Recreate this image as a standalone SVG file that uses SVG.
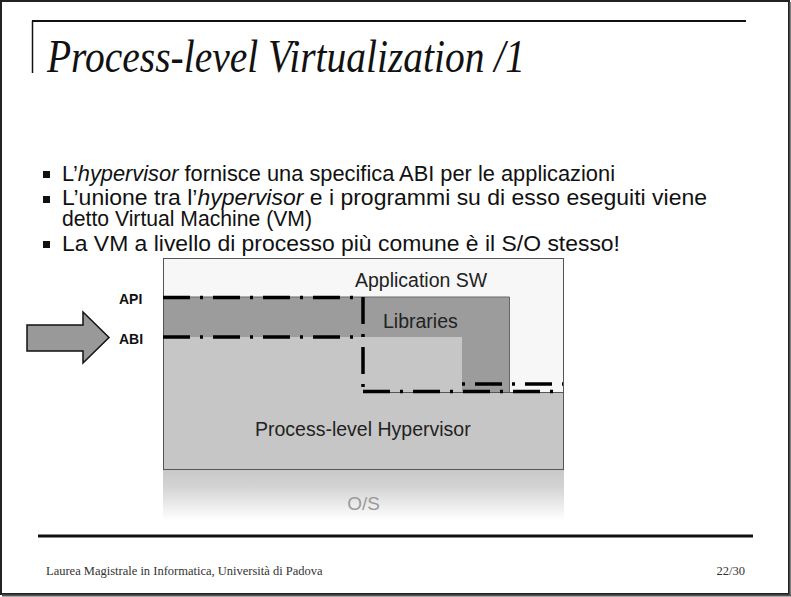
<svg xmlns="http://www.w3.org/2000/svg" width="791" height="597" viewBox="0 0 791 597">
<style>
.sans{font-family:"Liberation Sans",Arial,sans-serif}
.serif{font-family:"Liberation Serif","Times New Roman",serif}
.bul{font-size:21.5px;fill:#111}
.lbl{font-size:19.5px;fill:#222}
.dd{fill:none;stroke:#000;stroke-width:3.5;stroke-dasharray:27 10 3 10}
</style>
<defs>
<linearGradient id="sh" x1="0" y1="0" x2="0" y2="1">
<stop offset="0" stop-color="#c8c8c8"/>
<stop offset="0.35" stop-color="#d4d4d4"/>
<stop offset="1" stop-color="#ffffff"/>
</linearGradient>
</defs>
<rect x="0" y="0" width="791" height="597" fill="#fff"/>
<rect x="1" y="1" width="788" height="593" fill="none" stroke="#222" stroke-width="2"/>
<line x1="790" y1="2" x2="790" y2="596" stroke="#555" stroke-width="1.5"/>
<line x1="2" y1="595.5" x2="791" y2="595.5" stroke="#555" stroke-width="2"/>
<g id="title">
<line x1="32" y1="21" x2="746" y2="21" stroke="#111" stroke-width="2"/>
<line x1="32.5" y1="21" x2="32.5" y2="73" stroke="#111" stroke-width="1.5"/>
<text x="47" y="72" class="serif" font-style="italic" font-size="46" fill="#111" textLength="478" lengthAdjust="spacingAndGlyphs">Process-level Virtualization /1</text>
</g>
<g id="bullets" class="sans bul">
<rect x="43" y="171" width="7" height="7" fill="#111"/>
<text x="62" y="181" textLength="553" lengthAdjust="spacingAndGlyphs">L’<tspan font-style="italic">hypervisor</tspan> fornisce una specifica ABI per le applicazioni</text>
<rect x="43" y="196" width="7" height="7" fill="#111"/>
<text x="62" y="205" textLength="645" lengthAdjust="spacingAndGlyphs">L’unione tra l’<tspan font-style="italic">hypervisor</tspan> e i programmi su di esso eseguiti viene</text>
<text x="62" y="226" textLength="250" lengthAdjust="spacingAndGlyphs">detto Virtual Machine (VM)</text>
<rect x="43" y="241" width="7" height="7" fill="#111"/>
<text x="62" y="251" textLength="558" lengthAdjust="spacingAndGlyphs">La VM a livello di processo più comune è il S/O stesso!</text>
</g>
<g id="os">
<rect x="163" y="470" width="401" height="50" fill="url(#sh)"/>
<text x="363.5" y="510" class="sans" font-size="19" fill="#9a9a9a" text-anchor="middle">O/S</text>
</g>
<g id="application-sw">
<rect x="163.5" y="258.5" width="400" height="211" fill="#f7f7f7" stroke="#555" stroke-width="1"/>
<text x="355" y="287" class="sans lbl">Application SW</text>
</g>
<g id="libraries">
<polygon points="164,297 509.5,297 509.5,392 462,392 462,337 164,337" fill="#9c9c9c"/>
<polyline points="164,297 509.5,297 509.5,392" fill="none" stroke="#666" stroke-width="1"/>
<text x="383" y="328" class="sans lbl">Libraries</text>
</g>
<g id="hypervisor">
<polygon points="164,337 462,337 462,392 563,392 563,469 164,469" fill="#c6c6c6"/>
<line x1="363" y1="392.5" x2="563" y2="392.5" stroke="#555" stroke-width="1"/>
<text x="255" y="436" class="sans lbl">Process-level Hypervisor</text>
</g>
<g id="api-abi">
<polygon points="27,325 83,325 83,312 109,337.5 83,363 83,351 27,351" fill="#999" stroke="#111" stroke-width="1.5"/>
<text x="119" y="304" class="sans" font-size="14" font-weight="bold" fill="#111">API</text>
<text x="119" y="344" class="sans" font-size="14" font-weight="bold" fill="#111">ABI</text>
</g>
<g id="connectors">
<path class="dd" d="M163,297.5 H360"/>
<path class="dd" d="M163,337 H360"/>
<path class="dd" d="M363,297 V390"/>
<path class="dd" d="M363,391.5 H563"/>
<path class="dd" d="M462,384 H563" stroke-width="3" stroke-dashoffset="37"/>
</g>
<g id="footer">
<line x1="38" y1="536" x2="753" y2="536" stroke="#111" stroke-width="3"/>
<text x="46" y="575" class="serif" font-size="12.5" fill="#333">Laurea Magistrale in Informatica, Università di Padova</text>
<text x="745" y="575" class="serif" font-size="12.5" fill="#333" text-anchor="end">22/30</text>
</g>
</svg>
